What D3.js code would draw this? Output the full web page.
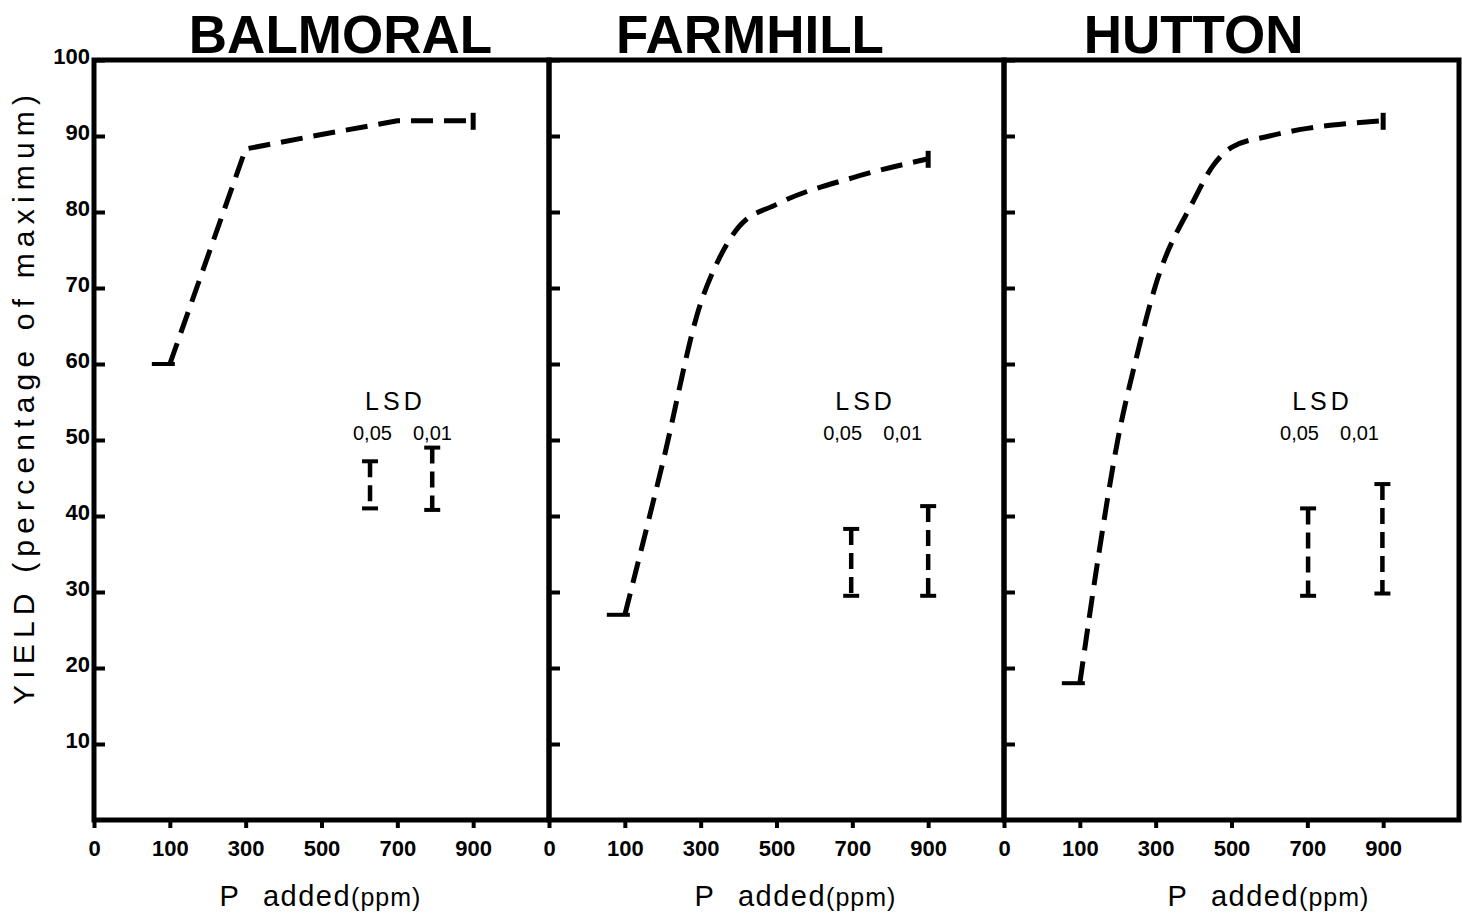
<!DOCTYPE html>
<html>
<head>
<meta charset="utf-8">
<script src="https://cdn.jsdelivr.net/npm/d3@7"></script>
<style>
  body { margin: 0; background: #fff; }
  text { font-family: "Liberation Sans", Arial, sans-serif; fill: #000; }
</style>
</head>
<body>
<svg id="chart" width="1462" height="914"></svg>
<script>
// ---- data ----
const sites = ["BALMORAL", "FARMHILL", "HUTTON"];
const ppmTicks = [0, 100, 300, 500, 700, 900];
const yieldTicks = [10, 20, 30, 40, 50, 60, 70, 80, 90, 100];

const balmoralP = [100, 300, 500, 700, 900];
const balmoralYield = [60, 88.3, 90.2, 92, 92];

const farmhillP = [100, 200, 300, 350, 400, 500, 700, 900];
const farmhillYield = [27, 47, 68, 74, 78, 81, 84.5, 87];

const huttonP = [100, 150, 200, 250, 300, 400, 450, 500, 600, 700, 800, 900];
const huttonYield = [18, 35, 50, 61, 70.4, 81.5, 86, 88.5, 90, 91, 91.6, 92];

// LSD bars (P position, low, high) per site
const lsd05P = [628, 697, 702];
const lsd05Low = [41, 29.5, 29.5];
const lsd05High = [47.2, 38.3, 41];
const lsd01P = [792, 900, 898];
const lsd01Low = [40.8, 29.5, 29.8];
const lsd01High = [49, 41.3, 44.2];
const lsdLabelP = [695, 735, 740];

// ---- layout ----
const margin = {top: 60, left: 94};
const panelW = 455, panelH = 760;
const titleP = [550, 430, 400];
const xLabelShift = [0, 20, 38];

const series = [
  {p: balmoralP, v: balmoralYield, curve: d3.curveLinear},
  {p: farmhillP, v: farmhillYield, curve: d3.curveMonotoneX},
  {p: huttonP, v: huttonYield, curve: d3.curveMonotoneX}
];

const svg = d3.select("svg#chart");

// P axis: 0 and 100 sit one interval apart, then 200 ppm per interval
const x = d3.scaleLinear().domain([0, 100, 1100]).range([0, panelW / 6, panelW]);
const y = d3.scaleLinear().domain([0, 100]).range([panelH, 0]);

sites.forEach((site, i) => {
  const g = svg.append("g")
    .attr("transform", "translate(" + (margin.left + i * panelW) + "," + margin.top + ")");

  // y axis ticks (inward)
  const yAxis = d3.axisLeft(y).tickValues(yieldTicks).tickSize(-11).tickPadding(4);
  if (i > 0) yAxis.tickFormat("");
  const ya = g.append("g").call(yAxis);
  ya.select(".domain").remove();
  ya.selectAll("line").attr("stroke", "#000").attr("stroke-width", 4);
  ya.selectAll("text")
    .style("font-size", "22px").style("font-weight", "bold")
    .attr("dy", "0.15em");

  // x axis
  const xAxis = d3.axisBottom(x).tickValues(ppmTicks).tickSize(8).tickPadding(12);
  const xa = g.append("g").attr("transform", "translate(0," + panelH + ")").call(xAxis);
  xa.select(".domain").remove();
  xa.selectAll("line").attr("stroke", "#000").attr("stroke-width", 4);
  xa.selectAll("text").style("font-size", "22px").style("font-weight", "bold");

  // frame
  g.append("rect")
    .attr("width", panelW).attr("height", panelH)
    .attr("fill", "none").attr("stroke", "#000").attr("stroke-width", 5);

  // title
  g.append("text")
    .attr("x", x(titleP[i])).attr("y", -7)
    .attr("text-anchor", "middle")
    .style("font-size", "53px").style("font-weight", "bold")
    .text(site);

  // x label
  const xl = g.append("text")
    .attr("x", panelW / 2 - 1 + xLabelShift[i]).attr("y", panelH + 86)
    .attr("text-anchor", "middle");
  xl.append("tspan").style("font-size", "29px").text("P");
  xl.append("tspan").style("font-size", "29px").style("letter-spacing", "1.5px")
    .attr("dx", 24).text("added");
  xl.append("tspan").style("font-size", "25px").style("letter-spacing", "1px").text("(ppm)");

  // response curve
  const s = series[i];
  const pts = s.p.map((p, k) => ({p: p, v: s.v[k]}));
  const line = d3.line().x(d => x(d.p)).y(d => y(d.v)).curve(s.curve);
  g.append("path")
    .datum(pts)
    .attr("d", line)
    .attr("fill", "none").attr("stroke", "#000")
    .attr("stroke-width", 5).attr("stroke-dasharray", "22,11");

  const first = pts[0], last = pts[pts.length - 1];
  g.append("line")
    .attr("x1", x(first.p) - 18).attr("x2", x(first.p) + 5)
    .attr("y1", y(first.v)).attr("y2", y(first.v))
    .attr("stroke", "#000").attr("stroke-width", 4);
  g.append("line")
    .attr("x1", x(last.p)).attr("x2", x(last.p))
    .attr("y1", y(last.v) - 8).attr("y2", y(last.v) + 9)
    .attr("stroke", "#000").attr("stroke-width", 5);

  // LSD bars
  const bars = [
    {p: lsd05P[i], lo: lsd05Low[i], hi: lsd05High[i]},
    {p: lsd01P[i], lo: lsd01Low[i], hi: lsd01High[i]}
  ];
  bars.forEach(b => {
    g.append("line")
      .attr("x1", x(b.p)).attr("x2", x(b.p))
      .attr("y1", y(b.hi)).attr("y2", y(b.lo))
      .attr("stroke", "#000").attr("stroke-width", 4.5)
      .attr("stroke-dasharray", "16,8");
    [b.hi, b.lo].forEach(v => {
      g.append("line")
        .attr("x1", x(b.p) - 8).attr("x2", x(b.p) + 8)
        .attr("y1", y(v)).attr("y2", y(v))
        .attr("stroke", "#000").attr("stroke-width", 4);
    });
  });

  const lx = x(lsdLabelP[i]);
  g.append("text")
    .attr("x", lx).attr("y", y(54))
    .attr("text-anchor", "middle")
    .style("font-size", "25px").style("letter-spacing", "4px")
    .text("LSD");
  g.append("text")
    .attr("x", lx - 23).attr("y", y(50))
    .attr("text-anchor", "middle").style("font-size", "20px")
    .text("0,05");
  g.append("text")
    .attr("x", lx + 37).attr("y", y(50))
    .attr("text-anchor", "middle").style("font-size", "20px")
    .text("0,01");
});

// y label
svg.append("text")
  .attr("transform", "translate(34," + (margin.top + 340) + ") rotate(-90)")
  .attr("text-anchor", "middle")
  .attr("textLength", 610).attr("lengthAdjust", "spacing")
  .style("font-size", "30px")
  .text("YIELD (percentage of maximum)");
</script>
</body>
</html>
